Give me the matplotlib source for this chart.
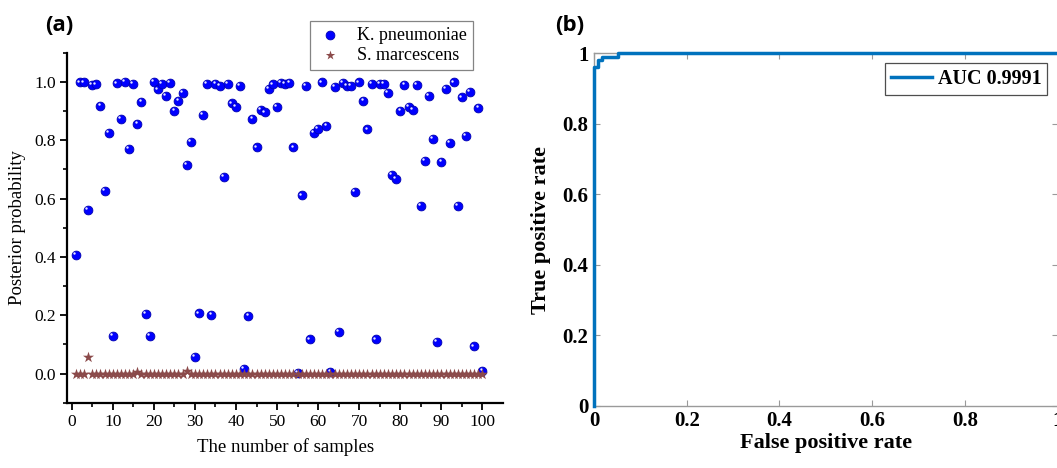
import matplotlib
matplotlib.use("Agg")
import matplotlib.pyplot as plt
from matplotlib.transforms import ScaledTranslation
import numpy as np

# ---- data (a): posterior probability per sample
samples = list(range(1, 101))
k_pneumoniae = [
    0.406, 0.998, 0.998, 0.560, 0.989, 0.991, 0.917, 0.626, 0.826, 0.129,
    0.995, 0.872, 0.999, 0.771, 0.993, 0.855, 0.930, 0.205, 0.130, 0.999,
    0.974, 0.992, 0.952, 0.997, 0.900, 0.934, 0.963, 0.714, 0.794, 0.057,
    0.206, 0.886, 0.992, 0.200, 0.992, 0.985, 0.674, 0.992, 0.926, 0.913,
    0.985, 0.017, 0.197, 0.874, 0.775, 0.905, 0.895, 0.975, 0.991, 0.913,
    0.997, 0.994, 0.997, 0.775, 0.002, 0.611, 0.986, 0.117, 0.825, 0.840,
    0.998, 0.849, 0.006, 0.983, 0.144, 0.997, 0.985, 0.985, 0.622, 0.998,
    0.935, 0.837, 0.992, 0.117, 0.994, 0.994, 0.963, 0.680, 0.666, 0.900,
    0.989, 0.914, 0.903, 0.989, 0.574, 0.728, 0.952, 0.805, 0.109, 0.726,
    0.977, 0.792, 0.998, 0.574, 0.947, 0.816, 0.966, 0.093, 0.912, 0.009,
]
s_marcescens = [0.0] * 100
s_marcescens[3] = 0.057
s_marcescens[15] = 0.005
s_marcescens[27] = 0.008

# ---- data (b): ROC curve
fpr = [0.0, 0.0, 0.009, 0.009, 0.018, 0.018, 0.052, 0.052, 1.0]
tpr = [0.0, 0.962, 0.962, 0.981, 0.981, 0.990, 0.990, 1.0, 1.0]
auc_label = "AUC 0.9991"

serif = "Liberation Serif"

fig = plt.figure(figsize=(10.57, 4.68), dpi=100)

# ---------------- panel (a)
ax1 = fig.add_axes([0.0637, 0.1395, 0.4122, 0.7479])
ax1.scatter(samples, k_pneumoniae, s=40, color="#0000FF", edgecolors="#0000B0",
            linewidths=0.6, label="K. pneumoniae", zorder=3)
# small highlight on each ball
hl = ax1.transData + ScaledTranslation(-1.3 / 72, 1.3 / 72, fig.dpi_scale_trans)
ax1.scatter(samples, k_pneumoniae, s=3, color="#E8E8FF", linewidths=0,
            transform=hl, zorder=4)
ax1.scatter(samples, s_marcescens, s=70, marker="*", color="#8B4A4A",
            linewidths=0, label="S. marcescens", zorder=5)

ax1.set_xlim(-1.05, 105)
ax1.set_ylim(-0.1, 1.1)
ax1.set_xticks(range(0, 101, 10))
ax1.set_xticks(range(5, 101, 10), minor=True)
ax1.set_yticks(np.arange(0, 1.01, 0.2))
ax1.set_yticks(np.arange(-0.1, 1.11, 0.2), minor=True)
ax1.set_yticklabels(["0.0", "0.2", "0.4", "0.6", "0.8", "1.0"])
for s in ["top", "right"]:
    ax1.spines[s].set_visible(False)
for s in ["left", "bottom"]:
    ax1.spines[s].set_linewidth(1.6)
ax1.tick_params(which="major", direction="out", length=5, width=1.3,
                labelsize=12.5, pad=3)
ax1.tick_params(which="minor", direction="out", length=3, width=1.2)
for lab in ax1.get_xticklabels() + ax1.get_yticklabels():
    lab.set_family(serif)
ax1.set_xlabel("The number of samples", family=serif, fontsize=13.5, labelpad=6)
ax1.set_ylabel("Posterior probability", family=serif, fontsize=13.5, labelpad=6)
leg1 = ax1.legend(loc="upper right", bbox_to_anchor=(0.930, 1.09),
                  prop={"family": serif, "size": 13}, frameon=True,
                  fancybox=False, edgecolor="#666666", handletextpad=0.7,
                  borderpad=0.3, labelspacing=0.2, handlelength=1.6,
                  scatterpoints=1, borderaxespad=0)
leg1.get_frame().set_linewidth(0.9)
leg1.legend_handles[0].set_sizes([40])
leg1.legend_handles[1].set_sizes([50])

fig.text(0.056, 0.945, "(a)", fontsize=16, fontweight="bold",
         family="Open Sans", ha="center", va="center")

# ---------------- panel (b)
ax2 = fig.add_axes([0.562, 0.1331, 0.4385, 0.753])
ax2.plot(fpr, tpr, color="#0072BD", linewidth=2.5, label=auc_label,
         clip_on=False, zorder=5)
ax2.set_xlim(0, 1)
ax2.set_ylim(0, 1)
ticks = [0, 0.2, 0.4, 0.6, 0.8, 1]
tick_labels = ["0", "0.2", "0.4", "0.6", "0.8", "1"]
ax2.set_xticks(ticks)
ax2.set_xticklabels(tick_labels)
ax2.set_yticks(ticks)
ax2.set_yticklabels(tick_labels)
for s in ax2.spines.values():
    s.set_color("#9A9A9A")
    s.set_linewidth(1.0)
ax2.tick_params(direction="in", length=4, width=0.8, color="#9A9A9A",
                top=True, right=True, labelsize=15, pad=4)
for lab in ax2.get_xticklabels() + ax2.get_yticklabels():
    lab.set_family(serif)
    lab.set_fontweight("bold")
ax2.set_xlabel("False positive rate", family=serif, fontweight="bold",
               fontsize=16, labelpad=1)
ax2.set_ylabel("True positive rate", family=serif, fontweight="bold",
               fontsize=16, labelpad=8)
leg2 = ax2.legend(loc="upper right", bbox_to_anchor=(0.978, 0.972),
                  prop={"family": serif, "size": 14.5, "weight": "bold"},
                  frameon=True, fancybox=False, edgecolor="#222222",
                  handlelength=2.0, handletextpad=0.3, borderpad=0.3,
                  borderaxespad=0)
leg2.get_frame().set_linewidth(0.9)

fig.text(0.539, 0.945, "(b)", fontsize=16, fontweight="bold",
         family="Open Sans", ha="center", va="center")

fig.savefig("out.png", dpi=100)
